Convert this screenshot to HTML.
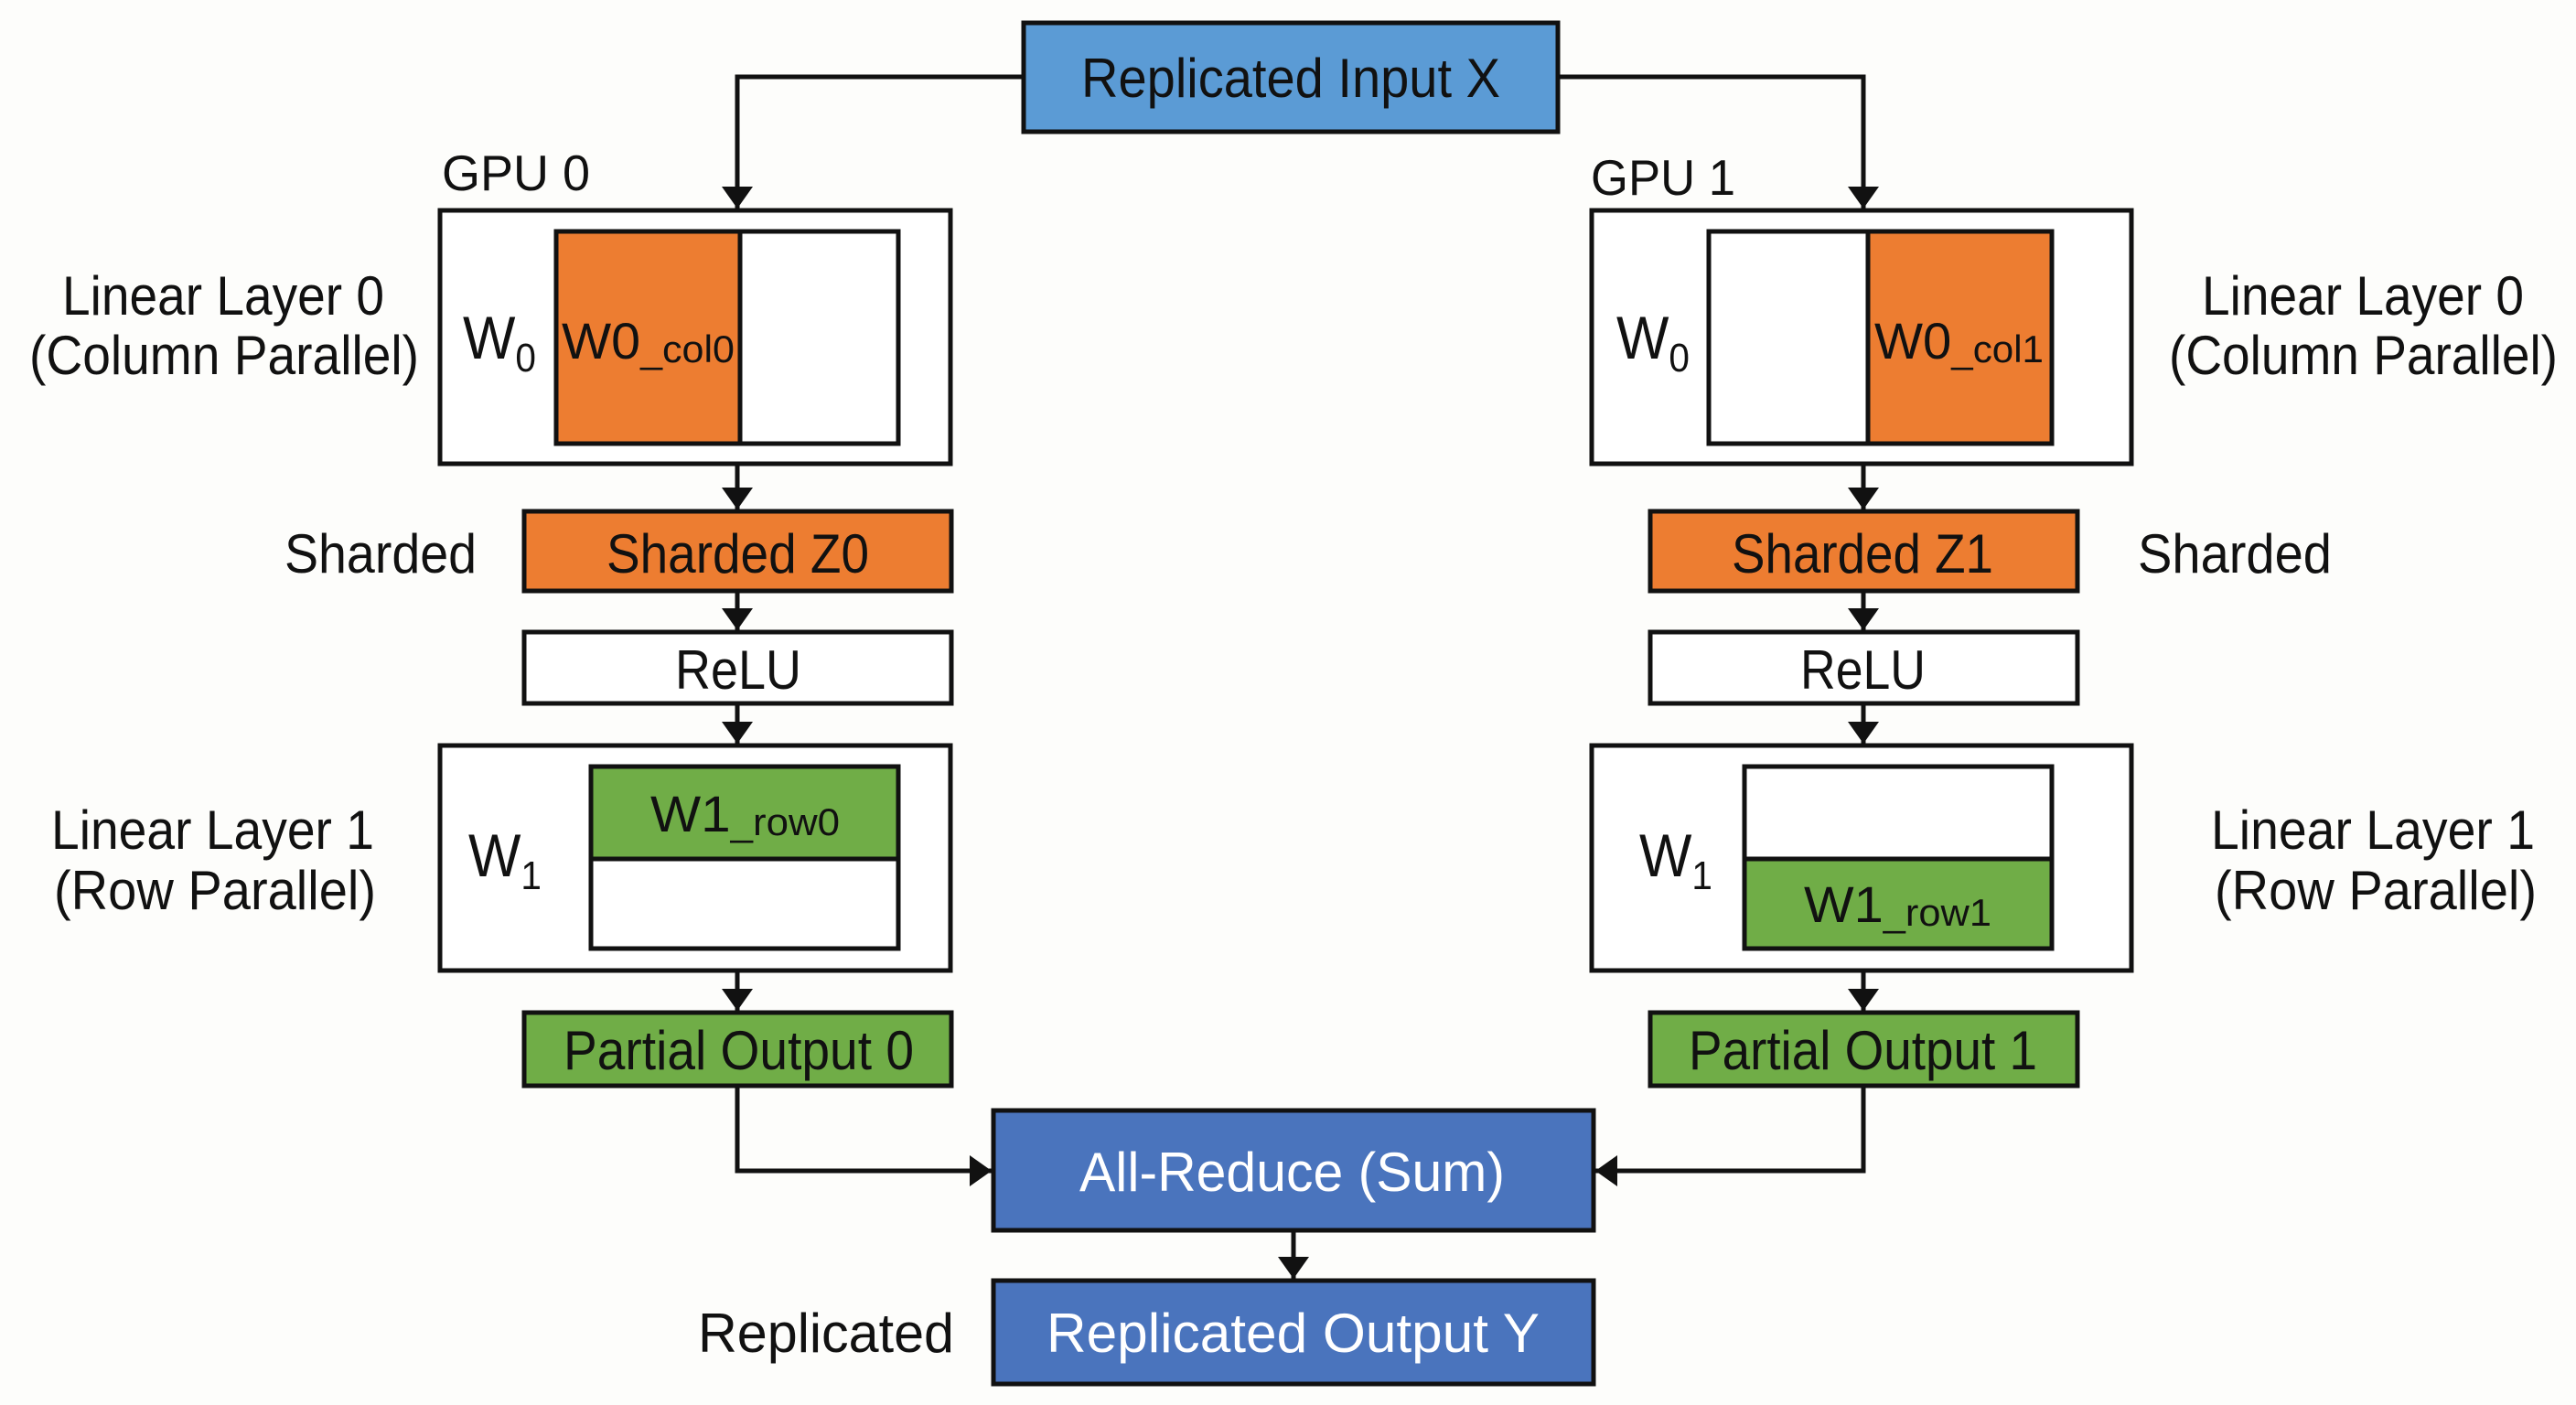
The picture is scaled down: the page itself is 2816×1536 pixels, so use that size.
<!DOCTYPE html>
<html><head><meta charset="utf-8"><style>
html,body{margin:0;padding:0;background:#fdfdfb;}
svg{display:block;}
text{font-family:"Liberation Sans",Arial,sans-serif;fill:#111;}
</style></head><body>
<svg width="2816" height="1536" viewBox="0 0 2816 1536" xmlns="http://www.w3.org/2000/svg">
<defs>
<marker id="ah" viewBox="0 0 24 34" refX="24" refY="17" markerWidth="24" markerHeight="34" markerUnits="userSpaceOnUse" orient="auto">
<path d="M0,0 L24,17 L0,34 Z" fill="#111"/>
</marker>
</defs>
<g fill="none" stroke="#111" stroke-width="5">
<path d="M1119,84 H806 V228" marker-end="url(#ah)"/>
<path d="M1704,84 H2037 V228" marker-end="url(#ah)"/>
<path d="M806,507 V557" marker-end="url(#ah)"/>
<path d="M2037,507 V557" marker-end="url(#ah)"/>
<path d="M806,646 V689" marker-end="url(#ah)"/>
<path d="M2037,646 V689" marker-end="url(#ah)"/>
<path d="M806,769 V813" marker-end="url(#ah)"/>
<path d="M2037,769 V813" marker-end="url(#ah)"/>
<path d="M806,1061 V1105" marker-end="url(#ah)"/>
<path d="M2037,1061 V1105" marker-end="url(#ah)"/>
<path d="M806,1187 V1280 H1084" marker-end="url(#ah)"/>
<path d="M2037,1187 V1280 H1744" marker-end="url(#ah)"/>
<path d="M1414,1345 V1398" marker-end="url(#ah)"/>
</g>
<g stroke="#111" stroke-width="5">
<rect x="1119" y="25" width="584" height="119" fill="#5b9bd5"/>
<rect x="481" y="230" width="558" height="277" fill="#fff"/>
<rect x="608" y="253" width="201" height="232" fill="#ed7d31"/>
<rect x="809" y="253" width="173" height="232" fill="#fff"/>
<rect x="1740" y="230" width="590" height="277" fill="#fff"/>
<rect x="1868" y="253" width="174" height="232" fill="#fff"/>
<rect x="2042" y="253" width="201" height="232" fill="#ed7d31"/>
<rect x="573" y="559" width="467" height="87" fill="#ed7d31"/>
<rect x="1804" y="559" width="467" height="87" fill="#ed7d31"/>
<rect x="573" y="691" width="467" height="78" fill="#fff"/>
<rect x="1804" y="691" width="467" height="78" fill="#fff"/>
<rect x="481" y="815" width="558" height="246" fill="#fff"/>
<rect x="646" y="838" width="336" height="101" fill="#70ad47"/>
<rect x="646" y="939" width="336" height="98" fill="#fff"/>
<rect x="1740" y="815" width="590" height="246" fill="#fff"/>
<rect x="1907" y="838" width="336" height="101" fill="#fff"/>
<rect x="1907" y="939" width="336" height="98" fill="#70ad47"/>
<rect x="573" y="1107" width="467" height="80" fill="#70ad47"/>
<rect x="1804" y="1107" width="467" height="80" fill="#70ad47"/>
<rect x="1086" y="1214" width="656" height="131" fill="#4a74bd"/>
<rect x="1086" y="1400" width="656" height="113" fill="#4a74bd"/>
</g>
<g font-size="60">
<text x="1182" y="106" textLength="458" lengthAdjust="spacingAndGlyphs">Replicated Input X</text>
<text x="483" y="208" font-size="55" textLength="162" lengthAdjust="spacingAndGlyphs">GPU 0</text>
<text x="1739" y="213" font-size="55" textLength="158" lengthAdjust="spacingAndGlyphs">GPU 1</text>
<text x="68" y="344" textLength="352" lengthAdjust="spacingAndGlyphs">Linear Layer 0</text>
<text x="32" y="409" textLength="426" lengthAdjust="spacingAndGlyphs">(Column Parallel)</text>
<text x="2407" y="344" textLength="352" lengthAdjust="spacingAndGlyphs">Linear Layer 0</text>
<text x="2371" y="409" textLength="425" lengthAdjust="spacingAndGlyphs">(Column Parallel)</text>
<text x="506" y="392" font-size="66" textLength="80" lengthAdjust="spacingAndGlyphs">W<tspan font-size="44" dy="14">0</tspan></text>
<text x="1767" y="392" font-size="66" textLength="80" lengthAdjust="spacingAndGlyphs">W<tspan font-size="44" dy="14">0</tspan></text>
<text x="614" y="392" font-size="56" textLength="189" lengthAdjust="spacingAndGlyphs">W0<tspan font-size="42" dy="4">_col0</tspan></text>
<text x="2049" y="392" font-size="56" textLength="185" lengthAdjust="spacingAndGlyphs">W0<tspan font-size="42" dy="4">_col1</tspan></text>
<text x="311" y="626" textLength="210" lengthAdjust="spacingAndGlyphs">Sharded</text>
<text x="663" y="626" textLength="287" lengthAdjust="spacingAndGlyphs">Sharded Z0</text>
<text x="1893" y="626" textLength="286" lengthAdjust="spacingAndGlyphs">Sharded Z1</text>
<text x="2337" y="626" textLength="212" lengthAdjust="spacingAndGlyphs">Sharded</text>
<text x="738" y="753" textLength="138" lengthAdjust="spacingAndGlyphs">ReLU</text>
<text x="1968" y="753" textLength="137" lengthAdjust="spacingAndGlyphs">ReLU</text>
<text x="56" y="928" textLength="353" lengthAdjust="spacingAndGlyphs">Linear Layer 1</text>
<text x="59" y="994" textLength="352" lengthAdjust="spacingAndGlyphs">(Row Parallel)</text>
<text x="2417" y="928" textLength="354" lengthAdjust="spacingAndGlyphs">Linear Layer 1</text>
<text x="2421" y="994" textLength="352" lengthAdjust="spacingAndGlyphs">(Row Parallel)</text>
<text x="512" y="958" font-size="66" textLength="80" lengthAdjust="spacingAndGlyphs">W<tspan font-size="44" dy="14">1</tspan></text>
<text x="1792" y="958" font-size="66" textLength="80" lengthAdjust="spacingAndGlyphs">W<tspan font-size="44" dy="14">1</tspan></text>
<text x="711" y="909" font-size="56" textLength="207" lengthAdjust="spacingAndGlyphs">W1<tspan font-size="42" dy="4">_row0</tspan></text>
<text x="1972" y="1008" font-size="56" textLength="205" lengthAdjust="spacingAndGlyphs">W1<tspan font-size="42" dy="4">_row1</tspan></text>
<text x="616" y="1169" textLength="383" lengthAdjust="spacingAndGlyphs">Partial Output 0</text>
<text x="1846" y="1169" textLength="381" lengthAdjust="spacingAndGlyphs">Partial Output 1</text>
<text x="1180" y="1302" style="fill:#fff" textLength="465" lengthAdjust="spacingAndGlyphs">All-Reduce (Sum)</text>
<text x="1144" y="1478" style="fill:#fff" textLength="539" lengthAdjust="spacingAndGlyphs">Replicated Output Y</text>
<text x="763" y="1478" textLength="280" lengthAdjust="spacingAndGlyphs">Replicated</text>
</g>
</svg>
</body></html>
